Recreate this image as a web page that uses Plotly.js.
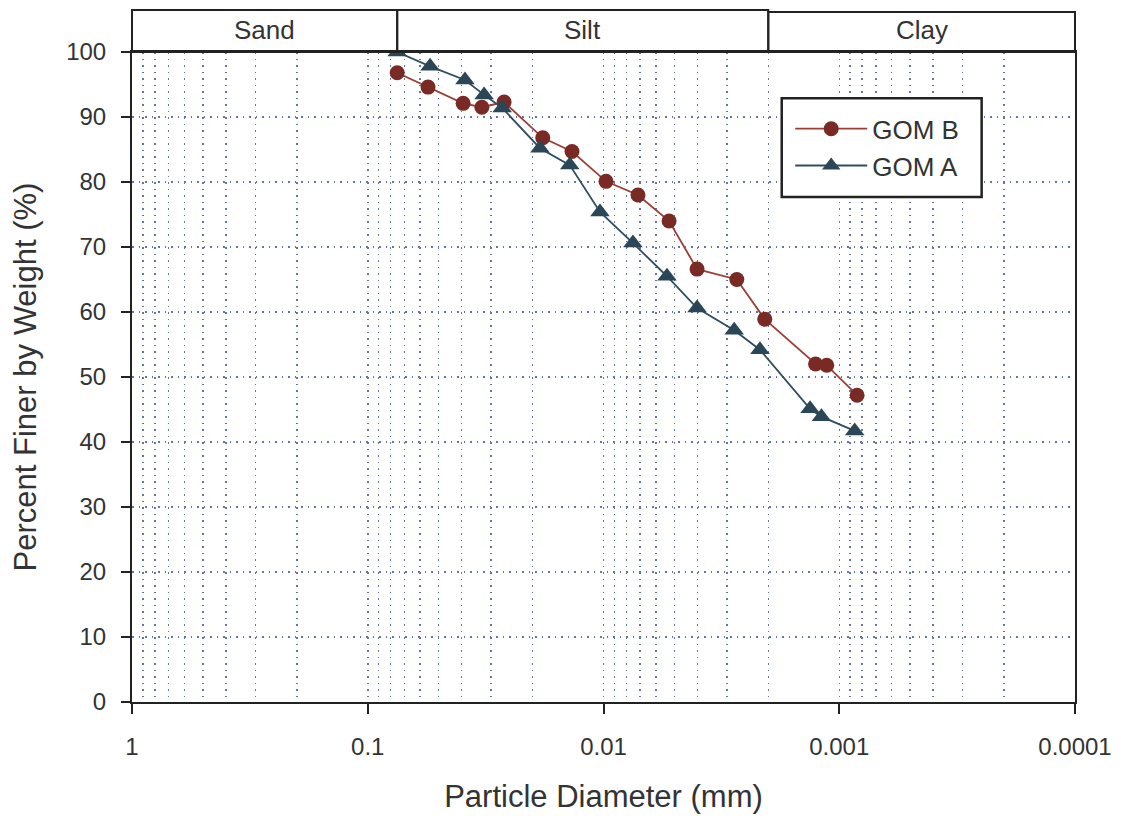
<!DOCTYPE html>
<html>
<head>
<meta charset="utf-8">
<script src="https://cdn.plot.ly/plotly-3.0.1.min.js"></script>
<style>
html,body{margin:0;padding:0;background:#fff;}
#chart{width:1121px;height:816px;}
</style>
</head>
<body>
<div id="chart"></div>
<script>
// Particle diameter (mm) and percent finer
const gomB_d = [0.075, 0.0555, 0.0394, 0.0328, 0.0264, 0.0181, 0.0136, 0.00976, 0.00714, 0.00527, 0.00401, 0.00272, 0.00207, 0.00126, 0.00113, 0.00084];
const gomB_p = [96.8, 94.6, 92.1, 91.5, 92.3, 86.8, 84.7, 80.1, 78.0, 74.0, 66.6, 65.0, 58.9, 52.0, 51.8, 47.2];
const gomA_d = [0.075, 0.0544, 0.0387, 0.0321, 0.0269, 0.0186, 0.0139, 0.01035, 0.0075, 0.00538, 0.00401, 0.00279, 0.00217, 0.00133, 0.00119, 0.00086];
const gomA_p = [100, 97.8, 95.7, 93.4, 91.4, 85.2, 82.6, 75.4, 70.6, 65.5, 60.6, 57.2, 54.2, 45.1, 43.9, 41.7];
const seriesNames = ["GOM B", "GOM A"];
const xTickVals = [1, 0.1, 0.01, 0.001, 0.0001];
const xTickText = ["1", "0.1", "0.01", "0.001", "0.0001"];
const minorMultipliers = [2, 3, 4, 5, 6, 7, 8, 9];
const bandNames = ["Sand", "Silt", "Clay"];
const bandEdges = [1, 0.075, 0.002, 0.0001];

const xRange = [0, -4]; // log10 range, reversed
const gridColor = "#6474a6";
const gridDash = "1.5px,5px";
const fontFam = "Liberation Sans, Arial, sans-serif";

// minor grid positions (2..9 within each decade)
const minorVals = [];
for (let i = 1; i < xTickVals.length; i++) {
  for (const m of minorMultipliers) minorVals.push(m * xTickVals[i]);
}

const traces = [
  {x: gomB_d, y: gomB_p, name: seriesNames[0], type: "scatter", mode: "lines+markers",
   line: {color: "#9a3f36", width: 1.8},
   marker: {symbol: "circle", size: 15, color: "#7a2a24"}},
  {x: gomA_d, y: gomA_p, name: seriesNames[1], type: "scatter", mode: "lines+markers",
   line: {color: "#2f4d60", width: 1.8},
   marker: {symbol: "triangle-up", size: 17, color: "#2b4656"}}
];

function toPaperX(v) { return (Math.log10(v) - xRange[0]) / (xRange[1] - xRange[0]); }

const shapes = [];
const annotations = [];
for (let i = 0; i < bandNames.length; i++) {
  const x0 = toPaperX(bandEdges[i]), x1 = toPaperX(bandEdges[i+1]);
  shapes.push({type: "rect", xref: "paper", yref: "paper",
    x0: x0, x1: x1, y0: 1.0, y1: (i === 2 ? 1.0615 : 1.0646),
    line: {color: "#222", width: 2}, fillcolor: "rgba(0,0,0,0)", layer: "above"});
  annotations.push({xref: "paper", yref: "paper",
    x: (x0 + x1) / 2, y: 1.034, xanchor: "center", yanchor: "middle",
    text: bandNames[i], showarrow: false,
    font: {size: 26, color: "#333", family: fontFam}});
}
// legend frame
shapes.push({type: "rect", xref: "paper", yref: "paper",
  x0: 0.689, x1: 0.901, y0: 0.777, y1: 0.929,
  line: {color: "#222", width: 2.5}, fillcolor: "#fff", layer: "above"});

const layout = {
  width: 1121, height: 816,
  margin: {l: 132, r: 46, t: 52, b: 114},
  paper_bgcolor: "#fff", plot_bgcolor: "#fff",
  font: {family: fontFam, color: "#333"},
  showlegend: true,
  legend: {x: 0.698, y: 0.918, xanchor: "left", yanchor: "top",
    borderwidth: 0, bgcolor: "rgba(0,0,0,0)",
    font: {size: 26, color: "#333", family: fontFam},
    itemwidth: 72, tracegroupgap: 0},
  xaxis: {type: "log", range: xRange, tickmode: "array", tickvals: xTickVals, ticktext: xTickText,
    ticks: "outside", ticklen: 10, tickwidth: 2, tickcolor: "#222", ticklabelstandoff: 12,
    showline: true, linecolor: "#222", linewidth: 2, mirror: true,
    showgrid: true, gridcolor: gridColor, griddash: gridDash, gridwidth: 1.5,
    minor: {tickmode: "array", tickvals: minorVals, showgrid: true,
      gridcolor: gridColor, griddash: gridDash, gridwidth: 1.5, ticks: ""},
    zeroline: false,
    tickfont: {size: 24, color: "#333", family: fontFam},
    title: {text: "Particle Diameter (mm)", font: {size: 31, color: "#333", family: fontFam}, standoff: 27}},
  yaxis: {range: [0, 100], dtick: 10, tick0: 0,
    ticks: "outside", ticklen: 9, tickwidth: 2, tickcolor: "#222", ticklabelstandoff: 10,
    showline: true, linecolor: "#222", linewidth: 2, mirror: true,
    showgrid: true, gridcolor: gridColor, griddash: gridDash, gridwidth: 1.5,
    zeroline: false,
    tickfont: {size: 24, color: "#333", family: fontFam},
    title: {text: "Percent Finer by Weight (%)", font: {size: 31, color: "#333", family: fontFam}, standoff: 20}},
  shapes: shapes,
  annotations: annotations
};

Plotly.newPlot("chart", traces, layout, {displayModeBar: false, staticPlot: true});
</script>
</body>
</html>
